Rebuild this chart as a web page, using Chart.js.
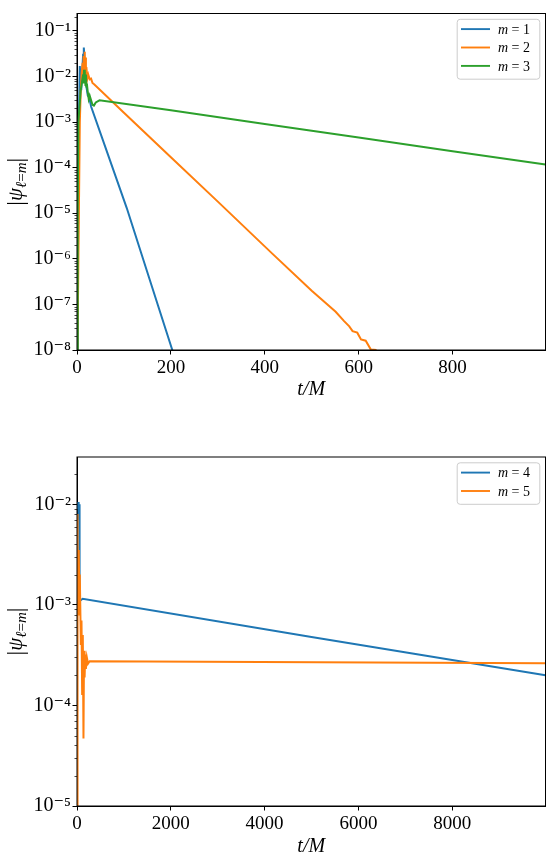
<!DOCTYPE html>
<html>
<head>
<meta charset="utf-8">
<script src="https://cdn.jsdelivr.net/npm/chart.js@4.4.1/dist/chart.umd.min.js"></script>
<style>
  html, body { margin: 0; padding: 0; background: #fff; }
  canvas { display: block; }
</style>
</head>
<body>
<canvas id="topChart" width="546" height="405"></canvas>
<canvas id="bottomChart" width="546" height="452"></canvas>
<script>
// top panel, m = 1, 2, 3
const tM1 = [0, 2, 4, 6, 9, 11, 13, 14.5, 16, 18, 20, 23, 26, 30, 60, 106, 150, 203, 206];
const psiM1 = [1e-9, 1e-6, 1e-3, 1.7e-2, 5e-3, 1.2e-2, 3e-2, 4.3e-2, 2.5e-2, 1.0e-2, 6e-3, 3.8e-3, 3.5e-3, 2.2e-3, 2.9e-4, 1.3e-5, 5e-7, 1.0e-8, 8e-9];

const tM2 = [0, 3, 6, 8, 10, 12, 13, 14, 15, 16, 17, 18, 19, 20, 22, 24, 27, 30, 33, 37, 100, 200, 300, 416, 500, 551, 569, 580, 587, 597, 605, 615, 626, 636, 637];
const psiM2 = [1e-9, 1e-6, 1e-3, 5e-3, 1.2e-2, 2e-2, 1.2e-2, 2.8e-2, 1.5e-2, 3.5e-2, 1.8e-2, 2.6e-2, 1.1e-2, 1.6e-2, 9e-3, 1.1e-2, 8.7e-3, 9e-3, 7.2e-3, 6.7e-3, 1.6e-3, 1.7e-4, 1.8e-5, 1.3e-6, 2e-7, 6.9e-8, 4.3e-8, 3.3e-8, 2.6e-8, 2.4e-8, 1.7e-8, 1.6e-8, 1.02e-8, 1.0e-8, 5e-9];

const tM3 = [0, 1, 2, 3, 5, 8, 11, 13, 14, 15, 16, 17, 18, 19, 20, 21, 23, 25, 27, 30, 33, 36, 40, 48, 200, 400, 600, 800, 998];
const psiM3 = [1e-9, 1e-7, 1e-5, 1e-3, 2e-3, 5e-3, 8e-3, 1.1e-2, 7e-3, 1.4e-2, 8e-3, 1.2e-2, 6.5e-3, 1.1e-2, 6e-3, 7e-3, 4.5e-3, 3.2e-3, 3.8e-3, 3.0e-3, 2.4e-3, 2.3e-3, 2.7e-3, 3.0e-3, 1.82e-3, 9.1e-4, 4.6e-4, 2.3e-4, 1.17e-4];

// bottom panel, m = 4, 5
const tM4 = [0, 15, 25, 35, 45, 55, 65, 120, 5000, 9990];
const psiM4 = [1.05e-2, 9e-3, 1.05e-2, 7e-3, 1.0e-2, 8e-4, 1.1e-3, 1.15e-3, 4.8e-4, 2.0e-4];

const tM5 = [0, 3, 12, 20, 30, 38, 53, 60, 82, 96, 110, 124, 138, 150, 162, 176, 190, 210, 235, 270, 9990];
const psiM5 = [1e-6, 8e-3, 2.5e-3, 4e-3, 1.2e-3, 3.5e-3, 8e-4, 2e-3, 4e-4, 7e-4, 1.3e-4, 5e-4, 4.7e-5, 3.5e-4, 1.9e-4, 3.2e-4, 2.3e-4, 3e-4, 2.6e-4, 2.75e-4, 2.63e-4];

// tick labels
const xTicksTop = [0, 200, 400, 600, 800];
const yTicksTop = [1e-8, 1e-7, 1e-6, 1e-5, 1e-4, 1e-3, 1e-2, 1e-1];
const xTicksBottom = [0, 2000, 4000, 6000, 8000];
const yTicksBottom = [1e-5, 1e-4, 1e-3, 1e-2];

const SERIF = "'Liberation Serif', 'DejaVu Serif', serif";
const SUP = {'-': '\u207B', '0': '\u2070', '1': '\u00B9', '2': '\u00B2', '3': '\u00B3',
  '4': '\u2074', '5': '\u2075', '6': '\u2076', '7': '\u2077', '8': '\u2078', '9': '\u2079'};

function powLabel(v) {
  const e = Math.round(Math.log10(v));
  return '10' + String(e).split('').map(c => SUP[c]).join('');
}

function points(ts, vs) {
  return ts.map((t, i) => ({ x: t, y: vs[i] }));
}

// box around the plot
const framePlugin = {
  id: 'frame',
  afterDatasetsDraw(chart) {
    const { ctx, chartArea: a } = chart;
    ctx.save();
    ctx.strokeStyle = '#000';
    ctx.lineWidth = 1;
    ctx.strokeRect(a.left, a.top, a.right - a.left, a.bottom - a.top);
    ctx.restore();
  }
};

// log minor ticks (2..9 x 10^n)
const minorTicksPlugin = {
  id: 'minorTicks',
  afterDraw(chart) {
    const y = chart.scales.y;
    const ctx = chart.ctx;
    const lo = Math.floor(Math.log10(y.min));
    const hi = Math.ceil(Math.log10(y.max));
    ctx.save();
    ctx.strokeStyle = '#000';
    ctx.lineWidth = 0.7;
    for (let d = lo; d <= hi; d++) {
      for (let k = 2; k <= 9; k++) {
        const v = k * Math.pow(10, d);
        if (v < y.min || v > y.max) continue;
        const py = Math.round(y.getPixelForValue(v)) + 0.5;
        ctx.beginPath();
        ctx.moveTo(chart.chartArea.left - 2.5, py);
        ctx.lineTo(chart.chartArea.left, py);
        ctx.stroke();
      }
    }
    ctx.restore();
  }
};

// y axis title |psi_{l=m}|
const yTitlePlugin = {
  id: 'yTitle',
  afterDraw(chart) {
    const { ctx, chartArea: a } = chart;
    const parts = [
      { s: '|', f: '23px ' + SERIF, dy: 1 },
      { s: '\u03C8', f: 'italic 21px ' + SERIF, dy: 0 },
      { s: '\u2113', f: 'italic 15px ' + SERIF, dy: 4 },
      { s: '=', f: '15px ' + SERIF, dy: 4 },
      { s: 'm', f: 'italic 15px ' + SERIF, dy: 4 },
      { s: '|', f: '23px ' + SERIF, dy: 1 }
    ];
    ctx.save();
    let w = 0;
    parts.forEach(p => { ctx.font = p.f; p.w = ctx.measureText(p.s).width; w += p.w; });
    ctx.translate(22, (a.top + a.bottom) / 2);
    ctx.rotate(-Math.PI / 2);
    ctx.fillStyle = '#000';
    ctx.textBaseline = 'alphabetic';
    let x = -w / 2;
    parts.forEach(p => {
      ctx.font = p.f;
      ctx.fillText(p.s, x, p.dy);
      x += p.w;
    });
    ctx.restore();
  }
};

// matplotlib-like legend in the upper right corner
const legendPlugin = {
  id: 'boxLegend',
  afterDraw(chart) {
    const { ctx, chartArea: a } = chart;
    const sets = chart.data.datasets;
    const rowH = 18.4;
    const boxW = 82.6;
    const boxH = 10.3 + rowH * (sets.length - 1) + 12.8;
    const left = a.right - 6.2 - boxW;
    const top = a.top + 5.3;
    ctx.save();
    ctx.fillStyle = 'rgba(255,255,255,0.8)';
    ctx.strokeStyle = '#cccccc';
    ctx.lineWidth = 1;
    ctx.beginPath();
    ctx.roundRect(left + 0.5, top + 0.5, boxW, boxH, 3);
    ctx.fill();
    ctx.stroke();
    sets.forEach((ds, i) => {
      const cy = top + 10.3 + i * rowH;
      ctx.strokeStyle = ds.borderColor;
      ctx.lineWidth = 1.9;
      ctx.beginPath();
      ctx.moveTo(left + 4.3, cy);
      ctx.lineTo(left + 33.3, cy);
      ctx.stroke();
      ctx.fillStyle = '#000';
      ctx.textBaseline = 'middle';
      ctx.font = 'italic 14px ' + SERIF;
      const head = ds.label.charAt(0);
      ctx.fillText(head, left + 41.3, cy + 1);
      const hw = ctx.measureText(head).width;
      ctx.font = '14px ' + SERIF;
      ctx.fillText(ds.label.slice(1), left + 41.3 + hw, cy + 1);
    });
    ctx.restore();
  }
};

function makeChart(id, sets, opt) {
  return new Chart(document.getElementById(id), {
    type: 'line',
    data: {
      // later series drawn on top, as in the original plot
      datasets: sets.map((s, i) => ({
        label: s.label,
        data: points(s.t, s.v),
        borderColor: s.color,
        backgroundColor: s.color,
        borderWidth: 2,
        pointRadius: 0,
        tension: 0,
        fill: false,
        order: sets.length - i
      }))
    },
    options: {
      responsive: false,
      animation: false,
      layout: { padding: { top: opt.padTop, right: 0.5, left: 0, bottom: 0 } },
      plugins: { legend: { display: false }, tooltip: { enabled: false } },
      scales: {
        x: {
          type: 'linear',
          min: 0,
          max: opt.xMax,
          afterBuildTicks: s => { s.ticks = opt.xTicks.map(v => ({ value: v })); },
          afterFit: s => { s.height = opt.xAxisH; },
          grid: { drawOnChartArea: false, drawTicks: true, tickLength: 4.5, tickColor: '#000', tickWidth: 1 },
          border: { display: true, color: '#000', width: 1 },
          ticks: {
            color: '#000',
            padding: 2,
            maxRotation: 0,
            font: { family: SERIF, size: 19 },
            callback: v => String(v)
          },
          title: {
            display: true,
            text: 't/M',
            color: '#000',
            padding: { top: 0, bottom: opt.titlePad },
            font: { family: SERIF, size: 20, style: 'italic', lineHeight: 1 }
          }
        },
        y: {
          type: 'logarithmic',
          min: opt.yMin,
          max: opt.yMax,
          afterBuildTicks: s => { s.ticks = opt.yTicks.map(v => ({ value: v })); },
          afterFit: s => { s.width = 77; },
          grid: { drawOnChartArea: false, drawTicks: true, tickLength: 4.5, tickColor: '#000', tickWidth: 1 },
          border: { display: true, color: '#000', width: 1 },
          ticks: {
            color: '#000',
            padding: 1.5,
            font: { family: SERIF, size: 20 },
            callback: v => powLabel(v)
          }
        }
      }
    },
    plugins: [framePlugin, minorTicksPlugin, yTitlePlugin, legendPlugin]
  });
}

makeChart('topChart', [
  { label: 'm = 1', t: tM1, v: psiM1, color: '#1f77b4' },
  { label: 'm = 2', t: tM2, v: psiM2, color: '#ff7f0e' },
  { label: 'm = 3', t: tM3, v: psiM3, color: '#2ca02c' }
], { padTop: 2, xMax: 998, xTicks: xTicksTop, xAxisH: 55, titlePad: 5.5,
     yMin: 1e-8, yMax: 0.241, yTicks: yTicksTop });

makeChart('bottomChart', [
  { label: 'm = 4', t: tM4, v: psiM4, color: '#1f77b4' },
  { label: 'm = 5', t: tM5, v: psiM5, color: '#ff7f0e' }
], { padTop: 52, xMax: 9990, xTicks: xTicksBottom, xAxisH: 51, titlePad: 0,
     yMin: 1e-5, yMax: 0.0295, yTicks: yTicksBottom });
</script>
</body>
</html>
